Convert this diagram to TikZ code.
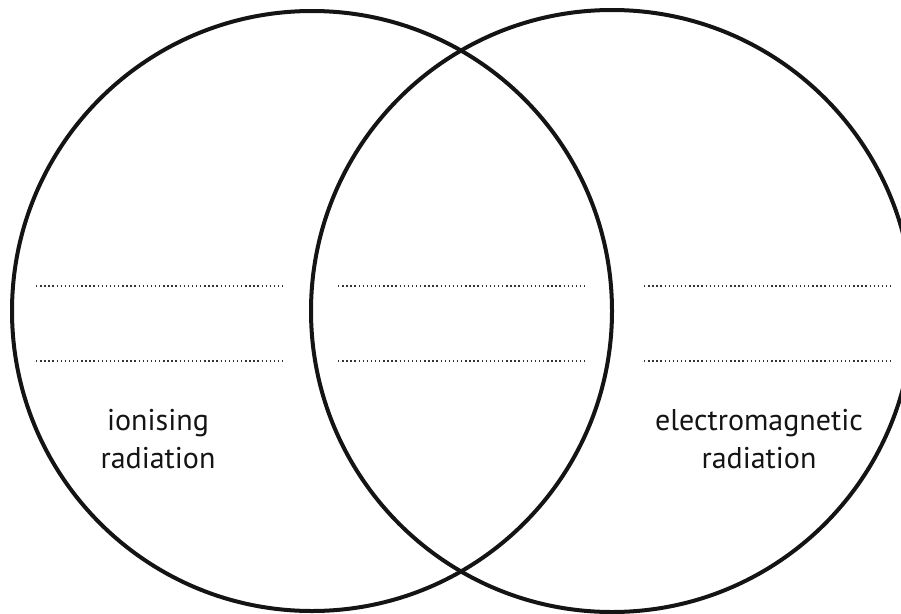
\documentclass[tikz,border=0pt]{standalone}
\usepackage{fontspec}
\setmainfont{PT Sans}
\begin{document}
\begin{tikzpicture}[x=1pt,y=-1pt]
	%frame
	\useasboundingbox (0,0) rectangle (901,613);
	\clip (0,0) rectangle (901,613);
	
	%circles
	\draw[line width=4pt, black!92] (312,311) circle[radius=300];
	\draw[line width=4pt, black!92] (612,311) circle[radius=301];
	
	%answer lines
	\foreach \y in {286, 361}{
		\foreach \x in {36, 338, 644}{
			\draw[line width=1.5pt, black!80, dash pattern=on 1.4pt off 2.7pt] (\x,\y)--(\x+248,\y);
		}
	}
	
	%labels
	\node (ionising) at (158, 439) [align=center, text=black!92, font=\fontsize{30}{38}\selectfont]{ionising\\radiation};
	\node (electromagnetic) at (759, 439) [align=center, text=black!92, font=\fontsize{30}{38}\selectfont]{electromagnetic\\radiation};
\end{tikzpicture}
\end{document}
